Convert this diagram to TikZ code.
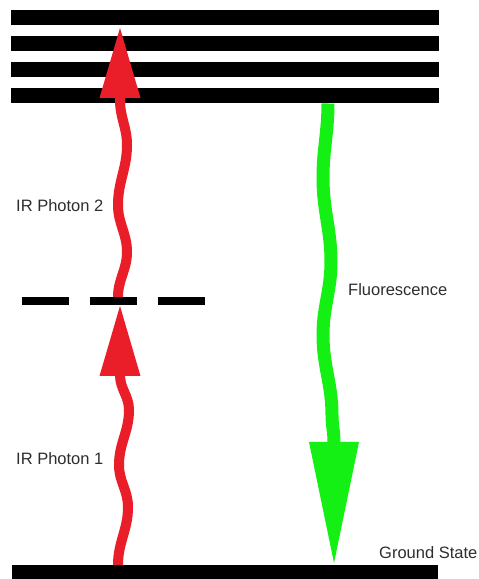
\documentclass[tikz,border=0pt]{standalone}
\usepackage{fontspec}
\setmainfont{Liberation Sans}
\usetikzlibrary{positioning, arrows.meta}
\definecolor{irred}{RGB}{234,30,40}
\definecolor{fluogreen}{RGB}{20,240,20}
\definecolor{labelgray}{RGB}{45,45,45}
\tikzset{
level/.style={fill=black, inner sep=0pt, minimum width=428pt, minimum height=15pt},
virtual/.style={fill=black, inner sep=0pt, minimum width=47pt, minimum height=7.5pt},
updown/.style={out=90, in=-90},
downup/.style={out=-90, in=90},
irphoton/.style={draw=irred, line width=10pt, -{Triangle[width=41pt, length=70pt, line width=0pt]}},
fluo/.style={draw=fluogreen, line width=13pt, -{Triangle[width=50pt, length=121pt, line width=0pt]}},
lbl/.style={anchor=base west, inner sep=0pt, text=labelgray, font=\fontsize{16.5}{19}\selectfont},
}

\begin{document}
\begin{tikzpicture}[x=1pt, y=1pt]
    \useasboundingbox (0,0) rectangle (479,579);

    %excited levels
    \node[level] (ex1) at (225,561) { };
    \node[level] (ex2) at (225,535) { };
    \node[level] (ex3) at (225,509) { };
    \node[level] (ex4) at (225,483) { };

    %ground level
    \node[level, minimum width=426pt, minimum height=14pt] (gnd) at (225,7) { };

    %wave points of IR photon 1
    \coordinate (a0) at (118,14);
    \coordinate (a1) at (128,72);
    \coordinate (a2) at (119,114);
    \coordinate (a3) at (129,169);
    \coordinate (a4) at (120,204);
    \coordinate (atip) at (120,273);

    %wave points of IR photon 2
    \coordinate (b0) at (118,282);
    \coordinate (b1) at (127,327);
    \coordinate (b2) at (118,374);
    \coordinate (b3) at (127,434);
    \coordinate (b4) at (120,479);
    \coordinate (btip) at (120,551);

    %wave points of fluorescence
    \coordinate (f0) at (328,475.5);
    \coordinate (f1) at (323,401);
    \coordinate (f2) at (331,317);
    \coordinate (f3) at (323,244);
    \coordinate (f4) at (332,164);
    \coordinate (f5) at (334,137);
    \coordinate (ftip) at (334,16);

    % photons
    \draw[irphoton] (a0) to[updown] (a1) to[updown] (a2) to[updown] (a3) to[updown] (a4) -- (atip);
    \draw[irphoton] (b0) to[updown] (b1) to[updown] (b2) to[updown] (b3) to[updown] (b4) -- (btip);
    \draw[fluo] (f0) to[downup] (f1) to[downup] (f2) to[downup] (f3) to[downup] (f4) to[downup] (f5) -- (ftip);

    %virtual level
    \node[virtual] (v1) at (45.5,278) { };
    \node[virtual] (v2) at (113.5,278) { };
    \node[virtual] (v3) at (181.5,278) { };

    %labels
    \node[lbl] (lblir2) at (16,367) {IR Photon 2};
    \node[lbl] (lblir1) at (16,114) {IR Photon 1};
    \node[lbl] (lblfluo) at (348,283) {Fluorescence};
    \node[lbl] (lblgnd) at (379,20) {Ground State};

\end{tikzpicture}
\end{document}
